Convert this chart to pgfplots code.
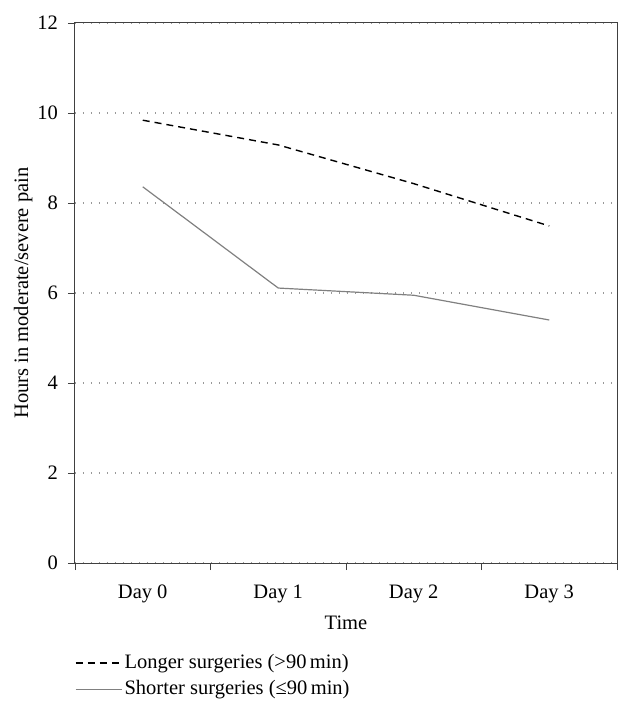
\documentclass[border=0pt]{standalone}
\usepackage{fontspec}
\setmainfont{Liberation Serif}
\usepackage{pgfplots}
\pgfplotsset{compat=1.18}
\begin{document}
\fontsize{20.5}{24}\selectfont
\begin{tikzpicture}
\begin{axis}[
  scale only axis, width=542pt, height=540pt,
  xmin=-0.5, xmax=3.5, ymin=0, ymax=12,
  xtick={0,1,2,3}, xticklabels={Day 0,Day 1,Day 2,Day 3},
  minor xtick={-0.5,0.5,1.5,2.5,3.5},
  major x tick style={draw=none},
  minor x tick style={black!75, line width=0.9pt},
  ytick={0,2,4,6,8,10,12},
  tick align=outside, tick pos=left,
  minor tick length=7pt, major tick length=7pt,
  y tick style={black!75, line width=0.9pt},
  axis line style={black!75, line width=1pt},
  ymajorgrids, grid style={gray!80, line width=1.1pt, dash pattern=on 1.1pt off 6.9pt},
  xlabel={Time}, ylabel={Hours in moderate/severe pain},
  /pgf/number format/assume math mode=true,
  tick label style={font=\fontsize{20.5}{24}\selectfont},
  label style={font=\fontsize{20.5}{24}\selectfont},
  yticklabel style={xshift=-3pt},
  xticklabel style={yshift=-8pt},
  xlabel style={yshift=1pt},
  ylabel style={yshift=-9pt},
  legend style={at={(0,-0.165)}, anchor=north west, draw=none, fill=none,
    inner xsep=0pt, inner ysep=0pt,
    font=\fontsize{20.5}{24}\selectfont, cells={anchor=west}, row sep=5pt},
  legend cell align=left,
  legend image code/.code={\draw[#1] (0pt,0pt) -- (35pt,0pt); \path (0pt,0pt) -- (46pt,0pt);},
]
\addplot[black, line width=1.4pt, dash pattern=on 7pt off 5pt] coordinates {(0,9.84) (1,9.29) (2,8.43) (3,7.49)};
\addlegendentry{Longer surgeries (>90\,min)}
\addplot[gray, line width=1.2pt] coordinates {(0,8.36) (1,6.11) (2,5.95) (3,5.40)};
\addlegendentry{Shorter surgeries (≤90\,min)}
\end{axis}
\path (current axis.south west) ++(-75pt,-154pt) rectangle ([shift={(15pt,23pt)}]current axis.north east);
\end{tikzpicture}
\end{document}
